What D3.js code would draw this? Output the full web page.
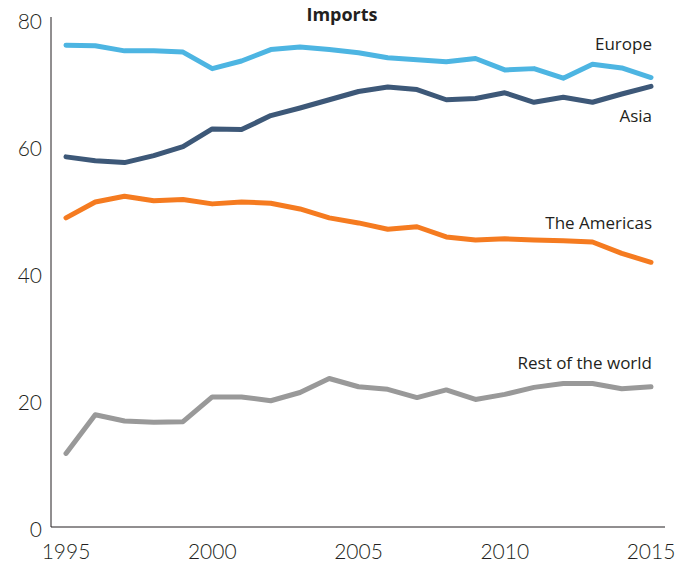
<!DOCTYPE html>
<html>
<head>
<meta charset="utf-8">
<script src="https://cdn.jsdelivr.net/npm/d3@7"></script>
<style>
  body { margin: 0; background: #fff; }
  text { font-family: Lato, "Open Sans", sans-serif; fill: #231f20; }
  .lbl { font-family: "Open Sans", Lato, sans-serif; }
</style>
</head>
<body>
<svg id="svg" width="693" height="566"></svg>
<script>
// years on the x axis
const years = d3.range(1995, 2016);

// share of imports, per region
const europe   = [76.2, 76.1, 75.3, 75.3, 75.1, 72.5, 73.7, 75.5, 75.9, 75.5, 75.0, 74.2, 73.9, 73.6, 74.1, 72.3, 72.5, 71.0, 73.2, 72.6, 71.1];
const asia     = [58.6, 58.0, 57.7, 58.8, 60.2, 63.0, 62.9, 65.1, 66.3, 67.6, 68.9, 69.6, 69.2, 67.6, 67.8, 68.7, 67.2, 68.0, 67.2, 68.5, 69.7];
const americas = [49.0, 51.5, 52.4, 51.7, 51.9, 51.2, 51.5, 51.3, 50.4, 49.0, 48.2, 47.2, 47.6, 46.0, 45.5, 45.7, 45.5, 45.4, 45.2, 43.4, 42.0];
const rest     = [11.9, 18.0, 17.0, 16.8, 16.9, 20.8, 20.8, 20.2, 21.5, 23.7, 22.4, 22.0, 20.7, 21.9, 20.4, 21.2, 22.3, 22.9, 22.9, 22.1, 22.4];

const yTicks = [0, 20, 40, 60, 80];
const xTicks = [1995, 2000, 2005, 2010, 2015];

const series = [
  { name: "Europe",            values: europe,   color: "#4db5e2", dy: -28 },
  { name: "Asia",              values: asia,     color: "#3d5878", dy: 36 },
  { name: "The Americas",      values: americas, color: "#f57b20", dy: -33 },
  { name: "Rest of the world", values: rest,     color: "#999999", dy: -18 }
];

const svg = d3.select("#svg");

const x = d3.scaleLinear().domain([1995, 2015]).range([66, 651]);
const y = d3.scaleLinear().domain([0, 80]).range([529, 21]);

// axes: just the plain lines, no ticks
svg.append("line")
  .attr("x1", 51).attr("x2", 51)
  .attr("y1", 17).attr("y2", y(0) - 2)
  .attr("stroke", "#231f20").attr("stroke-width", 1);
svg.append("line")
  .attr("x1", 51).attr("x2", 665)
  .attr("y1", y(0) - 2).attr("y2", y(0) - 2)
  .attr("stroke", "#231f20").attr("stroke-width", 1);

svg.append("g").selectAll("text")
  .data(yTicks)
  .enter().append("text")
  .attr("x", 42)
  .attr("y", d => y(d))
  .attr("dy", "0.38em")
  .attr("text-anchor", "end")
  .attr("font-size", 21)
  .attr("font-weight", 300)
  .text(d => d);

svg.append("g").selectAll("text")
  .data(xTicks)
  .enter().append("text")
  .attr("x", d => x(d))
  .attr("y", 559)
  .attr("text-anchor", "middle")
  .attr("font-size", 21)
  .attr("font-weight", 300)
  .text(d => d);

// title
svg.append("text")
  .attr("class", "lbl")
  .attr("x", 342).attr("y", 21)
  .attr("text-anchor", "middle")
  .attr("font-size", 18)
  .attr("font-weight", 700)
  .text("Imports");

const line = d3.line()
  .x((d, i) => x(years[i]))
  .y(d => y(d));

svg.append("g").selectAll("path")
  .data(series)
  .enter().append("path")
  .attr("fill", "none")
  .attr("stroke", d => d.color)
  .attr("stroke-width", 5)
  .attr("stroke-linejoin", "round")
  .attr("stroke-linecap", "round")
  .attr("d", d => line(d.values));

// labels at the right end of each line
svg.append("g").selectAll("text")
  .data(series)
  .enter().append("text")
  .attr("class", "lbl")
  .attr("x", 652)
  .attr("y", d => y(d.values[d.values.length - 1]) + d.dy)
  .attr("text-anchor", "end")
  .attr("font-size", 17)
  .text(d => d.name);
</script>
</body>
</html>
